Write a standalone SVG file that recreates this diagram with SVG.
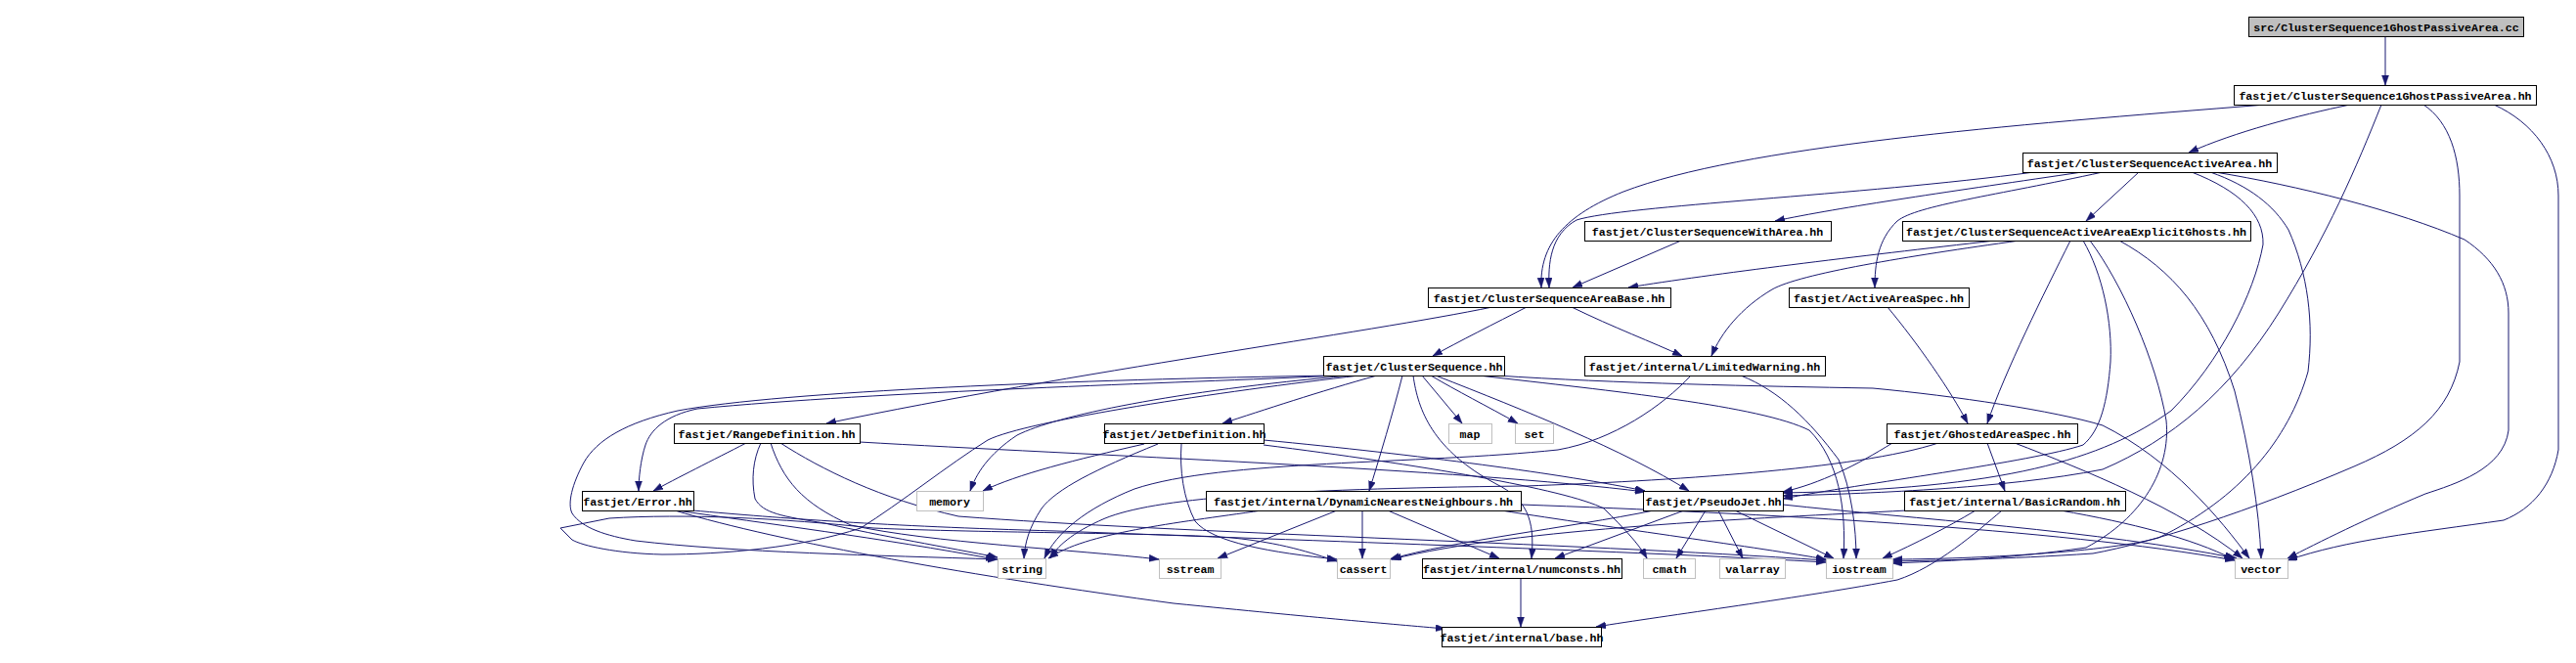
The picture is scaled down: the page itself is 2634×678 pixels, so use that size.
<svg xmlns="http://www.w3.org/2000/svg" width="2634" height="678" viewBox="0 0 2634 678">
<style>
.n rect{fill:#fff;stroke:#000;stroke-width:1}
.s rect{fill:#fff;stroke:#bfbfbf;stroke-width:1}
.r rect{fill:#bfbfbf;stroke:#000;stroke-width:1}
text{font-family:"Liberation Mono","DejaVu Sans Mono",monospace;font-size:11.6px;font-weight:bold;text-anchor:middle;fill:#000}
.e path{fill:none;stroke:#191970;stroke-width:1;marker-end:url(#a)}
</style>
<defs>
<marker id="a" markerUnits="userSpaceOnUse" markerWidth="11" markerHeight="8" refX="10" refY="3.5" orient="auto">
<path d="M0,0 L10,3.5 L0,7 z" fill="#191970" stroke="#191970" stroke-width="0.5"/>
</marker>
</defs>
<rect width="2634" height="678" fill="#fff"/>
<g class="e" id="edges">
<path d="M2439,37 L2439,87"/>
<path d="M2403,107 C2350,118 2285,135 2238,156"/>
<path d="M2317,107 C2050,128 1780,150 1660,196 C1600,220 1574,250 1576,294"/>
<path d="M2435,107 C2410,170 2380,240 2330,320 C2280,400 2220,450 2150,480 C2050,500 1900,505 1823,507"/>
<path d="M2478,107 C2505,125 2515,160 2515,200 L2515,370 C2505,420 2470,450 2407,477 C2300,523 2200,555 2140,566 C2050,572 1980,573 1935,574"/>
<path d="M2550,107 C2590,125 2616,160 2616,200 L2616,460 C2610,495 2590,520 2560,532 C2470,545 2400,552 2339,573"/>
<path d="M2080,176 C1900,200 1660,210 1612,225 C1585,240 1583,270 1584,294"/>
<path d="M2129,176 C2000,195 1880,212 1815,226"/>
<path d="M2150,176 C2040,200 1960,210 1940,226 C1920,245 1917,270 1917,294"/>
<path d="M2187,176 L2133,226"/>
<path d="M2241,176 C2290,195 2315,220 2314,250 C2305,300 2270,370 2220,420 C2150,470 2050,500 1823,504"/>
<path d="M2260,176 C2300,190 2325,210 2340,235 C2360,280 2366,330 2360,380 C2340,450 2290,510 2207,550 C2150,566 2000,572 1935,572"/>
<path d="M2265,176 C2350,190 2450,215 2520,245 C2550,265 2565,290 2565,320 L2565,440 C2560,480 2510,495 2480,505 C2420,530 2370,555 2339,571"/>
<path d="M1719,246 L1608,294"/>
<path d="M2040,246 C1900,262 1750,280 1665,294"/>
<path d="M2065,246 C1950,262 1840,280 1812,296 C1780,315 1760,340 1750,364"/>
<path d="M2117,246 C2090,300 2050,380 2032,433"/>
<path d="M2130,246 C2150,280 2160,330 2158,370 C2155,410 2148,440 2130,455 C2080,472 1900,495 1823,510"/>
<path d="M2137,246 C2170,290 2205,370 2215,430 C2220,480 2190,530 2133,560 C2050,572 1980,574 1935,576"/>
<path d="M2167,246 C2220,275 2260,320 2285,400 C2300,460 2310,520 2312,571"/>
<path d="M1561,314 C1530,330 1490,350 1465,364"/>
<path d="M1607,314 C1650,335 1690,350 1720,364"/>
<path d="M1526,314 C1400,340 1100,380 845,433"/>
<path d="M1930,314 C1960,350 1995,400 2012,433"/>
<path d="M1408,384 C1350,400 1290,420 1250,433"/>
<path d="M1434,384 C1425,420 1410,470 1400,502"/>
<path d="M1454,384 L1495,433"/>
<path d="M1463,384 C1490,400 1520,415 1552,433"/>
<path d="M1468,384 C1560,420 1660,460 1727,502"/>
<path d="M1512,384 C1650,400 1800,415 1850,440 C1880,470 1888,520 1885,571"/>
<path d="M1530,384 C1650,392 1800,395 1915,397 C2000,405 2100,420 2150,435 C2220,470 2270,530 2300,571"/>
<path d="M1370,384 C1200,392 900,400 713,418 C680,425 665,440 660,455 C655,470 653,490 653,502"/>
<path d="M1365,384 C1100,388 800,400 693,420 C640,432 610,450 597,473 C585,495 580,515 585,525 C595,540 620,548 650,553 C750,565 900,568 1020,572"/>
<path d="M1380,384 C1200,400 1080,425 1040,445 C1010,465 998,485 992,502"/>
<path d="M1390,384 C1250,400 1050,430 1010,450 C970,475 920,515 880,540 C820,560 740,567 677,567 C630,566 595,558 585,552 L573,540 L623,530 C700,525 800,530 893,540 C1000,545 1200,545 1260,550 C1310,555 1340,565 1367,574"/>
<path d="M1445,384 C1450,420 1465,460 1530,495 C1560,510 1570,530 1566,571"/>
<path d="M1729,384 C1700,415 1650,450 1593,460 C1450,475 1250,470 1160,500 C1110,520 1080,545 1068,571"/>
<path d="M1780,384 C1820,400 1850,430 1880,470 C1893,500 1898,540 1898,571"/>
<path d="M763,453 C730,470 690,490 668,502"/>
<path d="M879,452 C1100,465 1500,480 1682,503"/>
<path d="M778,453 C770,470 768,490 772,510 C780,525 800,528 843,535 C900,548 970,560 1020,570"/>
<path d="M788,453 C800,490 820,515 870,537 C950,555 1100,562 1185,572"/>
<path d="M798,453 C840,480 900,510 980,528 C1200,545 1600,555 1867,573"/>
<path d="M1170,454 C1100,470 1040,485 1005,502"/>
<path d="M1184,454 C1120,480 1080,500 1065,520 C1052,540 1048,555 1047,571"/>
<path d="M1208,454 C1206,480 1210,510 1222,533 C1240,555 1300,565 1367,572"/>
<path d="M1292,450 C1450,465 1600,485 1682,502"/>
<path d="M1292,455 C1450,475 1600,500 1640,520 C1660,540 1675,555 1684,571"/>
<path d="M2032,453 L2050,502"/>
<path d="M2060,453 C2130,480 2230,520 2293,571"/>
<path d="M1935,453 C1900,475 1860,495 1823,503"/>
<path d="M1982,453 C1900,480 1700,492 1560,497 C1300,500 1180,510 1130,530 C1095,545 1080,560 1074,571"/>
<path d="M692,522 C780,535 900,550 1018,572"/>
<path d="M708,522 C800,530 900,538 1080,543 C1400,555 1700,565 1867,575"/>
<path d="M690,522 C800,555 1000,590 1200,617 C1350,632 1420,638 1478,643"/>
<path d="M1290,522 C1200,535 1110,545 1072,571"/>
<path d="M1367,522 L1245,571"/>
<path d="M1393,522 L1393,571"/>
<path d="M1419,522 L1533,571"/>
<path d="M1535,522 C1650,540 1800,560 1867,572"/>
<path d="M1555,516 C1800,525 2100,540 2285,573"/>
<path d="M1691,522 C1602,540 1486,553 1421,572"/>
<path d="M1722,522 L1590,571"/>
<path d="M1744,522 L1714,571"/>
<path d="M1757,522 L1782,571"/>
<path d="M1774,522 L1875,571"/>
<path d="M1823,516 C1950,530 2150,543 2287,571"/>
<path d="M1950,522 C1800,530 1550,540 1423,572"/>
<path d="M2020,522 C1990,540 1960,555 1925,571"/>
<path d="M2047,522 C2020,545 1980,580 1940,593 C1850,610 1700,630 1632,641"/>
<path d="M2107,522 C2180,535 2240,550 2284,572"/>
<path d="M1555,591 L1555,641"/>
</g>
<g id="n_cc" class="r"><rect x="2299.5" y="17.5" width="281" height="20"/><text x="2440" y="31.5">src/ClusterSequence1GhostPassiveArea.cc</text></g>
<g id="n_g1" class="n"><rect x="2284.5" y="87.5" width="309" height="20"/><text x="2439" y="101.5">fastjet/ClusterSequence1GhostPassiveArea.hh</text></g>
<g id="n_aa" class="n"><rect x="2068.5" y="156.5" width="260" height="20"/><text x="2198" y="170.5">fastjet/ClusterSequenceActiveArea.hh</text></g>
<g id="n_wa" class="n"><rect x="1620.5" y="226.5" width="252" height="20"/><text x="1746" y="240.5">fastjet/ClusterSequenceWithArea.hh</text></g>
<g id="n_eg" class="n"><rect x="1945.5" y="226.5" width="356" height="20"/><text x="2123" y="240.5">fastjet/ClusterSequenceActiveAreaExplicitGhosts.hh</text></g>
<g id="n_ab" class="n"><rect x="1460.5" y="294.5" width="248" height="20"/><text x="1584" y="308.5">fastjet/ClusterSequenceAreaBase.hh</text></g>
<g id="n_as" class="n"><rect x="1829.5" y="294.5" width="184" height="20"/><text x="1921" y="308.5">fastjet/ActiveAreaSpec.hh</text></g>
<g id="n_cs" class="n"><rect x="1353.5" y="364.5" width="185" height="20"/><text x="1446" y="378.5">fastjet/ClusterSequence.hh</text></g>
<g id="n_lw" class="n"><rect x="1620.5" y="364.5" width="246" height="20"/><text x="1743" y="378.5">fastjet/internal/LimitedWarning.hh</text></g>
<g id="n_rd" class="n"><rect x="689.5" y="433.5" width="190" height="20"/><text x="784" y="447.5">fastjet/RangeDefinition.hh</text></g>
<g id="n_jd" class="n"><rect x="1129.5" y="433.5" width="163" height="20"/><text x="1211" y="447.5">fastjet/JetDefinition.hh</text></g>
<g id="n_map" class="s"><rect x="1481.5" y="433.5" width="44" height="20"/><text x="1503" y="447.5">map</text></g>
<g id="n_set" class="s"><rect x="1549.5" y="433.5" width="39" height="20"/><text x="1569" y="447.5">set</text></g>
<g id="n_gs" class="n"><rect x="1929.5" y="433.5" width="195" height="20"/><text x="2027" y="447.5">fastjet/GhostedAreaSpec.hh</text></g>
<g id="n_er" class="n"><rect x="595.5" y="502.5" width="114" height="20"/><text x="652" y="516.5">fastjet/Error.hh</text></g>
<g id="n_mem" class="s"><rect x="937.5" y="502.5" width="68" height="20"/><text x="971" y="516.5">memory</text></g>
<g id="n_dn" class="n"><rect x="1233.5" y="502.5" width="322" height="20"/><text x="1394" y="516.5">fastjet/internal/DynamicNearestNeighbours.hh</text></g>
<g id="n_pj" class="n"><rect x="1680.5" y="502.5" width="143" height="20"/><text x="1752" y="516.5">fastjet/PseudoJet.hh</text></g>
<g id="n_br" class="n"><rect x="1947.5" y="502.5" width="226" height="20"/><text x="2060" y="516.5">fastjet/internal/BasicRandom.hh</text></g>
<g id="n_str" class="s"><rect x="1020.5" y="571.5" width="49" height="20"/><text x="1045" y="585.5">string</text></g>
<g id="n_sst" class="s"><rect x="1185.5" y="571.5" width="63" height="20"/><text x="1217" y="585.5">sstream</text></g>
<g id="n_cas" class="s"><rect x="1367.5" y="571.5" width="54" height="20"/><text x="1394" y="585.5">cassert</text></g>
<g id="n_nc" class="n"><rect x="1454.5" y="571.5" width="204" height="20"/><text x="1556" y="585.5">fastjet/internal/numconsts.hh</text></g>
<g id="n_cm" class="s"><rect x="1680.5" y="571.5" width="53" height="20"/><text x="1707" y="585.5">cmath</text></g>
<g id="n_va" class="s"><rect x="1758.5" y="571.5" width="67" height="20"/><text x="1792" y="585.5">valarray</text></g>
<g id="n_io" class="s"><rect x="1867.5" y="571.5" width="68" height="20"/><text x="1901" y="585.5">iostream</text></g>
<g id="n_vec" class="s"><rect x="2285.5" y="571.5" width="54" height="20"/><text x="2312" y="585.5">vector</text></g>
<g id="n_base" class="n"><rect x="1474.5" y="641.5" width="163" height="20"/><text x="1556" y="655.5">fastjet/internal/base.hh</text></g>
</svg>
